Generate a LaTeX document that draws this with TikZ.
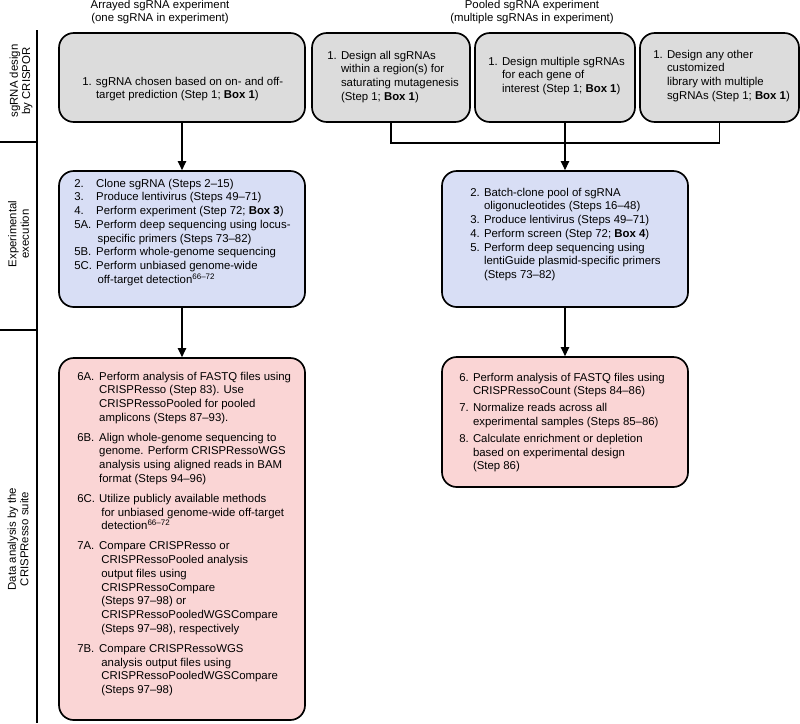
\documentclass[tikz,border=0pt]{standalone}
\usepackage{fontspec}
\setmainfont{Liberation Sans}
\usetikzlibrary{arrows.meta,fit}

\definecolor{designgray}{RGB}{220,220,220}
\definecolor{runblue}{RGB}{216,222,245}
\definecolor{analysispink}{RGB}{250,213,213}

\newcommand{\boxfont}{\fontsize{8.1}{9.8}\selectfont}
\newcommand{\steprows}[1]{\begin{tabular}[t]{@{}l@{\hspace{3pt}}l@{}}#1\end{tabular}}

\begin{document}
\begin{tikzpicture}[
      x=0.025cm, y=-0.025cm,
      font=\boxfont,
      arrow/.style={line width=0.9pt,-{Triangle[length=6.5pt,width=6pt]}},
      link/.style={line width=0.9pt},
      frame/.style={line width=0.8pt},
      stagebox/.style={draw, line width=1.2pt, rounded corners=10.5pt, inner sep=0pt},
      designbox/.style={stagebox, fill=designgray},
      runbox/.style={stagebox, fill=runblue},
      analysisbox/.style={stagebox, fill=analysispink},
      steptext/.style={anchor=base west, inner sep=0pt},
      header/.style={anchor=base, inner sep=0pt},
      rowlabel/.style={rotate=90, inner sep=0pt, align=center}
    ]

    \useasboundingbox (0,0) rectangle (800,723);

    % Column headers
    \node[header] (arrhead) at (160,9)
    {\begin{tabular}[t]{c}Arrayed sgRNA experiment\\[-1pt](one sgRNA in experiment)\end{tabular}};
    \node[header] (poolhead) at (532,9)
    {\begin{tabular}[t]{c}Pooled sgRNA experiment\\[-1pt](multiple sgRNAs in experiment)\end{tabular}};

    % Row labels and frame
    \draw[frame] (37,30) -- (37,723);
    \draw[frame] (0,142) -- (37,142);
    \draw[frame] (0,330) -- (37,330);
    \node[rowlabel] (designlab) at (21,81) {sgRNA design\\[-1pt]by CRISPOR};
    \node[rowlabel] (runlab) at (18.5,234) {Experimental\\[-1pt]execution};
    \node[rowlabel] (analysislab) at (18,539) {Data analysis by the\\[-1pt]CRISPResso suite};

    % sgRNA design boxes
    \node[designbox, fit={(59,33) (305,122)}] (a1) {};
    \node[designbox, fit={(312,33) (470,122)}] (p1) {};
    \node[designbox, fit={(475,33) (635,122)}] (p2) {};
    \node[designbox, fit={(640,33) (799,122)}] (p3) {};

    \node[steptext] (a1txt) at (82,85) {\steprows{
      1. & sgRNA chosen based on on- and off-\\
         & target prediction (Step 1; \textbf{Box 1})}};
    \node[steptext] (p1txt) at (327,59) {\steprows{
      1. & Design all sgRNAs\\
         & within a region(s) for\\
         & saturating mutagenesis\\
         & (Step 1; \textbf{Box 1})}};
    \node[steptext] (p2txt) at (488,65) {\steprows{
      1. & Design multiple sgRNAs\\
         & for each gene of\\
         & interest (Step 1; \textbf{Box 1})}};
    \node[steptext] (p3txt) at (653,58) {\steprows{
      1. & Design any other\\
         & customized\\
         & library with multiple\\
         & sgRNAs (Step 1; \textbf{Box 1})}};

    % Experimental execution boxes
    \node[runbox, fit={(59,171) (305,307)}] (b1) {};
    \node[runbox, fit={(442,171) (688,307)}] (b2) {};

    \node[steptext] (b1txt) at (74,187) {\steprows{
      2.  & Clone sgRNA (Steps 2–15)\\
      3.  & Produce lentivirus (Steps 49–71)\\
      4.  & Perform experiment (Step 72; \textbf{Box 3})\\
      5A. & Perform deep sequencing using locus-\\
          & \hspace{1pt}specific primers (Steps 73–82)\\
      5B. & Perform whole-genome sequencing\\
      5C. & Perform unbiased genome-wide\\
          & \hspace{1pt}off-target detection\smash{\textsuperscript{66–72}}}};
    \node[steptext] (b2txt) at (470,196) {\steprows{
      2. & Batch-clone pool of sgRNA\\
         & oligonucleotides (Steps 16–48)\\
      3. & Produce lentivirus (Steps 49–71)\\
      4. & Perform screen (Step 72; \textbf{Box 4})\\
      5. & Perform deep sequencing using\\
         & lentiGuide plasmid-specific primers\\
         & (Steps 73–82)}};

    % Data analysis boxes
    \node[analysisbox, fit={(59,358) (305,720)}] (c1) {};
    \node[analysisbox, fit={(442,357) (688,487)}] (c2) {};

    \node[steptext] (c1txt) at (77,380) {\steprows{
      6A. & Perform analysis of FASTQ files using\\
          & CRISPResso (Step 83). Use\\
          & CRISPRessoPooled for pooled\\
          & amplicons (Steps 87–93).\\[4.3pt]
      6B. & Align whole-genome sequencing to\\
          & genome. Perform CRISPRessoWGS\\
          & analysis using aligned reads in BAM\\
          & format (Steps 94–96)\\[4.3pt]
      6C. & Utilize publicly available methods\\
          & \hspace{1.5pt}for unbiased genome-wide off-target\\
          & \hspace{1.5pt}detection\smash{\textsuperscript{66–72}}\\[4.3pt]
      7A. & Compare CRISPResso or\\
          & \hspace{1.5pt}CRISPRessoPooled analysis\\
          & \hspace{1.5pt}output files using\\
          & \hspace{1.5pt}CRISPRessoCompare\\
          & \hspace{1.5pt}(Steps 97–98) or\\
          & \hspace{1.5pt}CRISPRessoPooledWGSCompare\\
          & \hspace{1.5pt}(Steps 97–98), respectively\\[4.3pt]
      7B. & Compare CRISPRessoWGS\\
          & \hspace{1.5pt}analysis output files using\\
          & \hspace{1.5pt}CRISPRessoPooledWGSCompare\\
          & \hspace{1.5pt}(Steps 97–98)}};
    \node[steptext] (c2txt) at (459,381) {\steprows{
      6. & Perform analysis of FASTQ files using\\
         & CRISPRessoCount (Steps 84–86)\\[2.2pt]
      7. & Normalize reads across all\\
         & experimental samples (Steps 85–86)\\[2.2pt]
      8. & Calculate enrichment or depletion\\
         & based on experimental design\\
         & (Step 86)}};

    % Connectors
    \coordinate (pjoin) at (b2.north |- 0,143);
    \draw[link] (p1.south) |- (pjoin) -| (p3.south);
    \draw[link] (p2.south -| pjoin) -- (pjoin);
    \draw[arrow] (pjoin) -- (b2.north);
    \draw[arrow] (a1.south) -- (b1.north);
    \draw[arrow] (b1.south) -- (c1.north);
    \draw[arrow] (b2.south) -- (c2.north);

  \end{tikzpicture}
\end{document}
